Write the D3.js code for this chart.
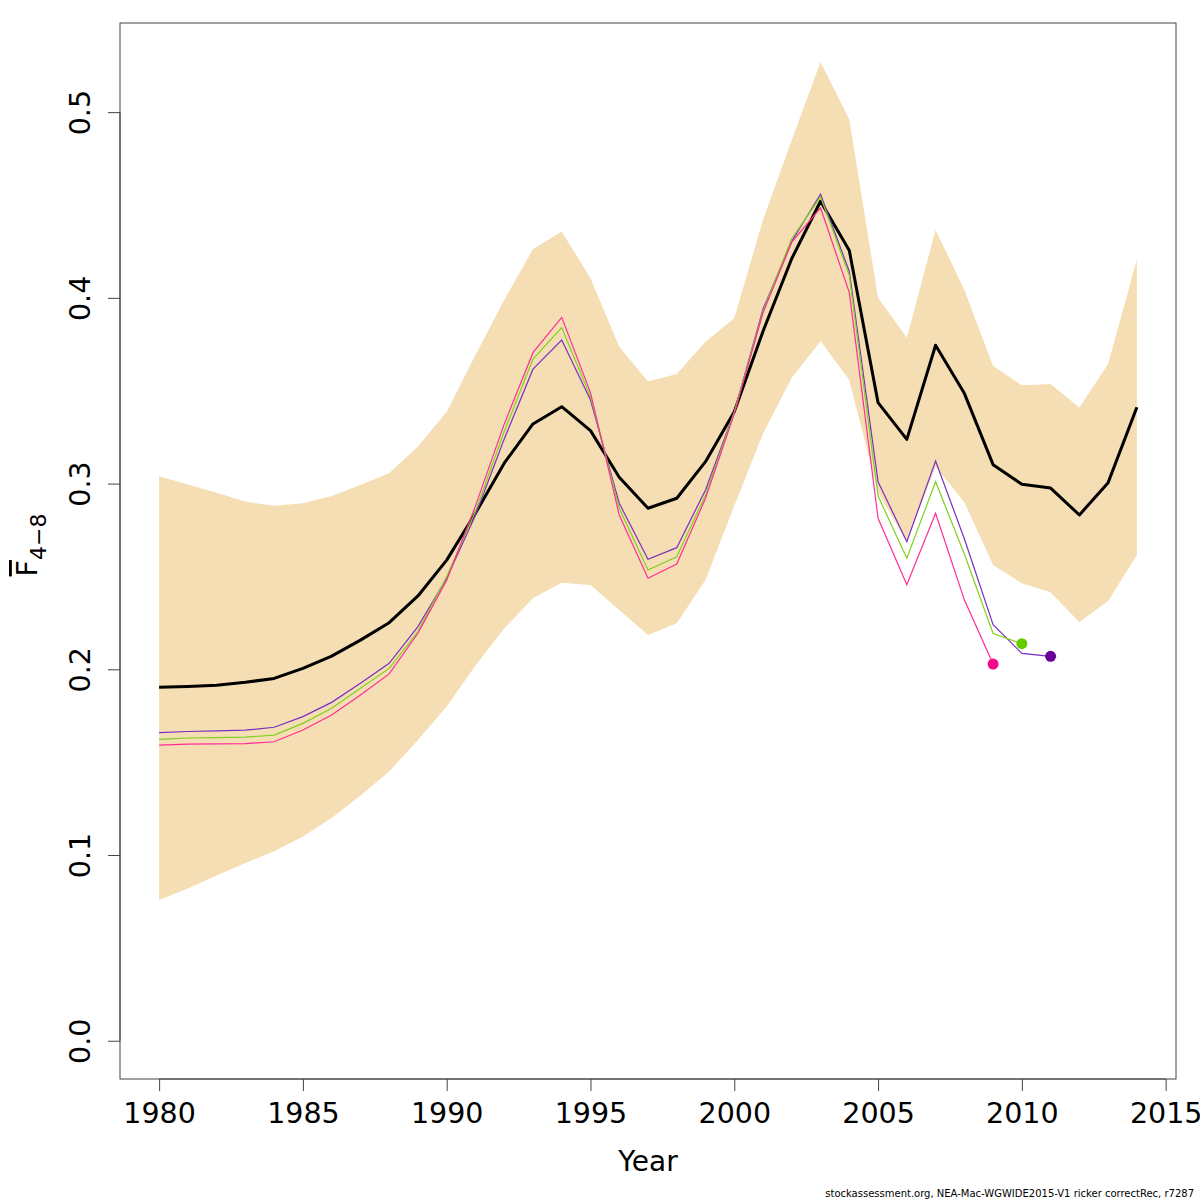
<!DOCTYPE html>
<html>
<head>
<meta charset="utf-8">
<script src="https://cdn.jsdelivr.net/npm/d3@7"></script>
<style>
  body { margin: 0; background: #fff; }
  svg text { font-family: "DejaVu Sans", sans-serif; }
</style>
</head>
<body>
<div id="plot"></div>
<script>
// Fbar(4-8) estimates with confidence band and retrospective peels
var years = d3.range(1980, 2015);
var fbar = [0.1903, 0.1907, 0.1914, 0.1930, 0.1951, 0.2005, 0.2071, 0.2157, 0.2251, 0.2395,
    0.2588, 0.2840, 0.3110, 0.3321, 0.3414, 0.3285, 0.3034, 0.2867, 0.2921, 0.3118,
    0.3387, 0.3820, 0.4212, 0.4520, 0.4255, 0.3436, 0.3238, 0.3745, 0.3486, 0.3102,
    0.2996, 0.2976, 0.2831, 0.3005, 0.3411];
var upper = [0.3039, 0.2995, 0.2950, 0.2903, 0.2880, 0.2894, 0.2933, 0.2992, 0.3055, 0.3200,
    0.3387, 0.3692, 0.3989, 0.4262, 0.4357, 0.4106, 0.3737, 0.3549, 0.3590, 0.3764,
    0.3890, 0.4420, 0.4850, 0.5270, 0.4960, 0.4000, 0.3785, 0.4366, 0.4043, 0.3633,
    0.3529, 0.3536, 0.3410, 0.3644, 0.4208];
var lower = [0.0758, 0.0820, 0.0890, 0.0957, 0.1020, 0.1100, 0.1200, 0.1320, 0.1450, 0.1620,
    0.1800, 0.2020, 0.2220, 0.2382, 0.2466, 0.2454, 0.2319, 0.2185, 0.2248, 0.2481,
    0.2880, 0.3270, 0.3570, 0.3766, 0.3558, 0.2950, 0.2687, 0.3090, 0.2900, 0.2562,
    0.2463, 0.2415, 0.2253, 0.2368, 0.2615];

// retrospective runs (last year 2011, 2010, 2009)
var retro2011 = [0.1659, 0.1665, 0.1668, 0.1672, 0.1688, 0.1745, 0.1822, 0.1925, 0.2032, 0.2230,
    0.2490, 0.2830, 0.3240, 0.3616, 0.3773, 0.3450, 0.2894, 0.2592, 0.2655, 0.2966,
    0.3385, 0.3940, 0.4305, 0.4558, 0.4142, 0.3010, 0.2687, 0.3122, 0.2703, 0.2240,
    0.2086, 0.2070];
var retro2010 = [0.1623, 0.1630, 0.1632, 0.1635, 0.1646, 0.1709, 0.1790, 0.1898, 0.2005, 0.2203,
    0.2499, 0.2850, 0.3280, 0.3670, 0.3840, 0.3468, 0.2867, 0.2535, 0.2606, 0.2939,
    0.3385, 0.3930, 0.4320, 0.4544, 0.4121, 0.2933, 0.2598, 0.3010, 0.2621, 0.2193,
    0.2138];
var retro2009 = [0.1592, 0.1597, 0.1598, 0.1600, 0.1610, 0.1673, 0.1754, 0.1862, 0.1975, 0.2194,
    0.2480, 0.2880, 0.3320, 0.3705, 0.3895, 0.3490, 0.2831, 0.2490, 0.2567, 0.2921,
    0.3375, 0.3920, 0.4300, 0.4485, 0.4028, 0.2813, 0.2455, 0.2840, 0.2374, 0.2028];

var retros = [
    { values: retro2011, line: "#7a2fc0", dot: "#660099" },
    { values: retro2010, line: "#7fd11f", dot: "#66cc00" },
    { values: retro2009, line: "#ff2d96", dot: "#f5088a" }
];

var xTicks = [1980, 1985, 1990, 1995, 2000, 2005, 2010, 2015];
var yTicks = [0, 0.1, 0.2, 0.3, 0.4, 0.5];
var footnote = "stockassessment.org, NEA-Mac-WGWIDE2015-V1 ricker correctRec, r7287";

var W = 1200, H = 1200;
var box = { left: 120, right: 1176, top: 23, bottom: 1079 };

var svg = d3.select("#plot").append("svg")
    .attr("width", W)
    .attr("height", H);

var x = d3.scaleLinear()
    .domain([1978.64, 2015.36])
    .range([box.left, box.right]);
var y = d3.scaleLinear()
    .domain([-0.0206, 0.548])
    .range([box.bottom, box.top]);

// confidence band
var band = d3.area()
    .x(function(d, i) { return x(years[i]); })
    .y0(function(d, i) { return y(lower[i]); })
    .y1(function(d, i) { return y(upper[i]); });

svg.append("path")
    .datum(years)
    .attr("d", band)
    .attr("fill", "#f5deb3");

var line = d3.line()
    .x(function(d, i) { return x(years[i]); })
    .y(function(d) { return y(d); });

// black estimate line
svg.append("path")
    .datum(fbar)
    .attr("d", line)
    .attr("fill", "none")
    .attr("stroke", "#000")
    .attr("stroke-width", 3)
    .attr("stroke-linejoin", "round");

retros.forEach(function(r) {
    svg.append("path")
        .datum(r.values)
        .attr("d", line)
        .attr("fill", "none")
        .attr("stroke", r.line)
        .attr("stroke-width", 1.2);
});
retros.forEach(function(r) {
    var n = r.values.length - 1;
    svg.append("circle")
        .attr("cx", x(years[n]))
        .attr("cy", y(r.values[n]))
        .attr("r", 5.5)
        .attr("fill", r.dot);
});

// frame
svg.append("rect")
    .attr("x", box.left)
    .attr("y", box.top)
    .attr("width", box.right - box.left)
    .attr("height", box.bottom - box.top)
    .attr("fill", "none")
    .attr("stroke", "#444")
    .attr("stroke-width", 1);

// axes
var xAxis = d3.axisBottom(x)
    .tickValues(xTicks)
    .tickSize(12)
    .tickPadding(12)
    .tickFormat(d3.format("d"));
var gx = svg.append("g")
    .attr("transform", "translate(0," + box.bottom + ")")
    .call(xAxis);
gx.select(".domain")
    .attr("d", "M" + x(1980) + ",0H" + x(2015))
    .attr("stroke", "#444");
gx.selectAll(".tick line").attr("stroke", "#444");
gx.selectAll(".tick text")
    .attr("fill", "#000")
    .attr("font-size", 28.5)
    .attr("font-family", "DejaVu Sans");

var yAxis = d3.axisLeft(y)
    .tickValues(yTicks)
    .tickSize(12)
    .tickFormat(d3.format(".1f"));
var gy = svg.append("g")
    .attr("transform", "translate(" + box.left + ",0)")
    .call(yAxis);
gy.select(".domain")
    .attr("d", "M0," + y(0) + "V" + y(0.5))
    .attr("stroke", "#444");
gy.selectAll(".tick line").attr("stroke", "#444");
gy.selectAll(".tick text")
    .attr("fill", "#000")
    .attr("font-size", 28.5)
    .attr("font-family", "DejaVu Sans")
    .attr("x", null)
    .attr("dy", null)
    .attr("text-anchor", "middle")
    .attr("transform", "translate(-30,0) rotate(-90)")
    .attr("y", 0);

// axis titles
svg.append("text")
    .attr("x", (box.left + box.right) / 2)
    .attr("y", 1171)
    .attr("text-anchor", "middle")
    .attr("font-size", 28)
    .text("Year");

var ylab = svg.append("text")
    .attr("transform", "translate(37," + 545 + ") rotate(-90)")
    .attr("text-anchor", "middle")
    .attr("font-size", 28.5);
ylab.append("tspan")
    .attr("text-decoration", "overline")
    .text("F");
ylab.append("tspan")
    .attr("font-size", 22)
    .attr("dy", 9)
    .text("4\u22128");

svg.append("text")
    .attr("x", 1194)
    .attr("y", 1197)
    .attr("text-anchor", "end")
    .attr("font-size", 10)
    .text(footnote);
</script>
</body>
</html>
